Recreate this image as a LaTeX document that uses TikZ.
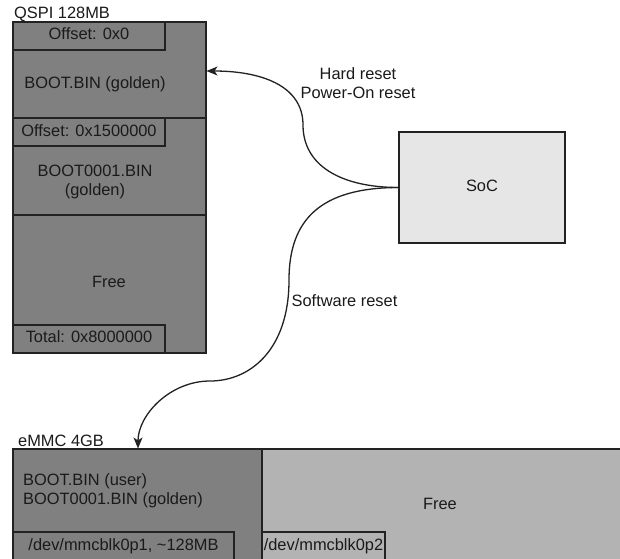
\documentclass[tikz,border=0pt]{standalone}
\usepackage{fontspec}
\setmainfont{Liberation Sans}
\usetikzlibrary{arrows.meta}
\definecolor{memdark}{HTML}{808080}
\definecolor{memlight}{HTML}{B3B3B3}
\definecolor{socfill}{HTML}{E6E6E6}
\definecolor{edgecol}{HTML}{222222}
\definecolor{txtcol}{HTML}{1A1A1A}
\begin{document}
\begin{tikzpicture}[x=1pt,y=-1pt,
  region/.style={draw=edgecol,line width=1.2pt,anchor=north west,inner sep=0pt,outer sep=0pt},
  txt/.style={font=\fontsize{16.4}{19}\selectfont,text=txtcol,inner sep=0pt,anchor=base},
  conn/.style={draw=edgecol,line width=1.3pt,-{Stealth[length=11pt,width=9pt,inset=3pt]}}]
\useasboundingbox (0,0) rectangle (620,558);
\fill[white] (0,0) rectangle (620,558);
% QSPI
\node[region,fill=memdark,minimum width=193pt,minimum height=96pt] (qspiA) at (13,22) {};
\node[region,fill=memdark,minimum width=193pt,minimum height=97pt] (qspiB) at (13,118) {};
\node[region,fill=memdark,minimum width=193pt,minimum height=138pt] (qspiC) at (13,215) {};
\node[region,fill=memdark,minimum width=152pt,minimum height=28pt] (offA) at (13,22) {};
\node[region,fill=memdark,minimum width=152pt,minimum height=28pt] (offB) at (13,118) {};
\node[region,fill=memdark,minimum width=152pt,minimum height=28pt] (total) at (13,325) {};
\node[txt,anchor=base west] (qspilbl) at (14,18) {QSPI 128MB};
\node[txt] (offAt) at (89,39.5) {Offset: 0x0};
\node[txt] (bootA) at (95,88.5) {BOOT.BIN (golden)};
\node[txt] (offBt) at (89,136.5) {Offset: 0x1500000};
\node[txt,align=center] (bootB) at (95,195) {BOOT0001.BIN\\(golden)};
\node[txt] (freeA) at (109,287) {Free};
\node[txt] (totalt) at (89,342.5) {Total: 0x8000000};
% SoC
\node[region,fill=socfill,minimum width=166pt,minimum height=111pt] (soc) at (399,132) {};
\node[txt] (soct) at (482,191.5) {SoC};
% eMMC
\node[region,fill=memdark,minimum width=249pt,minimum height=125pt] (emmcA) at (13,449) {};
\node[region,fill=memlight,minimum width=365pt,minimum height=125pt] (emmcB) at (262,449) {};
\node[region,fill=memdark,minimum width=221pt,minimum height=40pt] (p1) at (13,532) {};
\node[region,fill=memlight,minimum width=123pt,minimum height=40pt] (p2) at (262,532) {};
\node[txt,anchor=base west] (emmclbl) at (18,446) {eMMC 4GB};
\node[txt,anchor=base west,align=left] (bootC) at (23,504) {BOOT.BIN (user)\\BOOT0001.BIN (golden)};
\node[txt] (freeB) at (440,509) {Free};
\node[txt] (p1t) at (123.5,550.5) {/dev/mmcblk0p1, \textasciitilde128MB};
\node[txt] (p2t) at (323.5,550) {/dev/mmcblk0p2};
% connectors
\coordinate (hardin) at (206.5,71);
\coordinate (hardmid) at (303,125);
\coordinate (swmid) at (289,280);
\coordinate (swlow) at (210,381);
\coordinate (swin) at (138,448.5);
\draw[conn] (soc.west) .. controls (340,187.5) and (303,165) .. (hardmid)
  .. controls (303,85) and (260,71) .. (hardin);
\draw[conn] (soc.west) .. controls (320,187.5) and (289,220) .. (swmid)
  .. controls (289,350) and (250,381) .. (swlow)
  .. controls (170,381) and (138,415) .. (swin);
\node[txt,align=center] (hardt) at (358,98) {Hard reset\\Power-On reset};
\node[txt] (swt) at (344.5,306.5) {Software reset};
\end{tikzpicture}
\end{document}
